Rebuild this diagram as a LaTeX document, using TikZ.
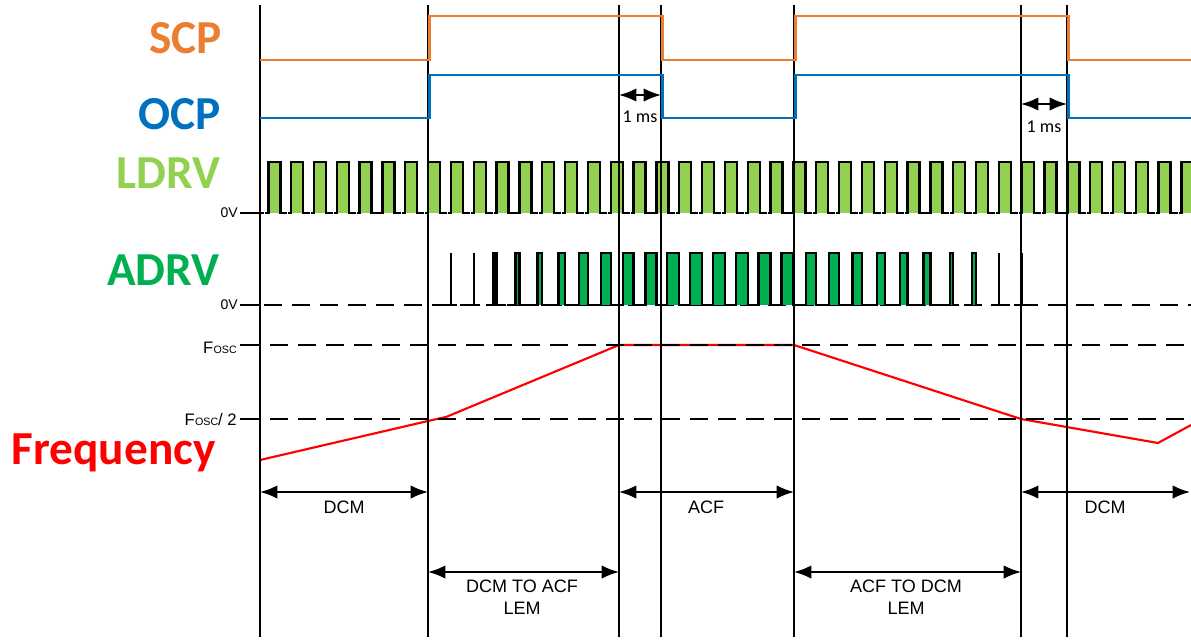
\documentclass[tikz,border=0pt]{standalone}
\usepackage{fontspec}
\setmainfont{Liberation Sans}
\newfontfamily\calibri{Carlito}
\usetikzlibrary{arrows.meta}
\definecolor{scpc}{RGB}{237,125,49}
\definecolor{ocpc}{RGB}{0,112,192}
\definecolor{ldrvc}{RGB}{146,208,80}
\definecolor{adrvc}{RGB}{0,176,80}
\definecolor{freqc}{RGB}{255,0,0}
\newcommand{\fosclabel}{F\kern0.3pt{\fontsize{8}{9}\selectfont OSC}}
\begin{document}
\begin{tikzpicture}[x=0.75pt,y=-0.75pt,
  vline/.style={black,line width=1.1pt},
  sig/.style={line width=2pt},
  pulse/.style={black,line width=1.8pt,line join=miter},
  dashln/.style={black,line width=2.2pt,dash pattern=on 13.5pt off 7.5pt},
  tickln/.style={black,line width=2.2pt},
  dim/.style={black,line width=1.3pt,{Latex[length=13pt,width=10pt]}-{Latex[length=13pt,width=10pt]}},
  msdim/.style={black,line width=1.3pt,{Latex[length=13pt,width=10pt]}-{Latex[length=13pt,width=10pt]}},
  lab/.style={font=\fontsize{13.5}{16.5}\selectfont, align=center, inner sep=0pt},
  mslab/.style={font=\calibri\fontsize{13.5}{15}\selectfont, inner sep=0pt},
  axlab/.style={anchor=base east, inner sep=0pt, text depth=0pt},
  big/.style={anchor=base east, inner sep=0pt, text height=23pt, font=\calibri\bfseries\fontsize{35.5}{40}\selectfont},
]
\useasboundingbox (0,0) rectangle (1191,639);

% vertical reference lines
\coordinate (a top) at (260,5);  \coordinate (a bot) at (260,637);
\coordinate (b top) at (428,5);  \coordinate (b bot) at (428,637);
\coordinate (c top) at (619,5);  \coordinate (c bot) at (619,637);
\coordinate (d top) at (661,5);  \coordinate (d bot) at (661,637);
\coordinate (e top) at (794,5);  \coordinate (e bot) at (794,637);
\coordinate (f top) at (1021,5); \coordinate (f bot) at (1021,637);
\coordinate (g top) at (1067,5); \coordinate (g bot) at (1067,637);
\coordinate (r1) at (0,492);
\coordinate (r2) at (0,572);
\coordinate (ms1) at (0,95);
\coordinate (ms2) at (0,104);
\coordinate (rend) at (1190,492);

% big labels
\node[big, text=scpc] (lscp) at (222,53) {SCP};
\node[big, text=ocpc] (locp) at (221,129) {OCP};
\node[big, text=ldrvc] (lldrv) at (221,188) {LDRV};
\node[big, text=adrvc] (ladrv) at (220,285) {ADRV};
\node[big, text=freqc] (lfreq) at (216,464) {Frequency};

% axis labels and ticks
\node[axlab, font=\fontsize{10.5}{12}\selectfont] (z1) at (238,217.5) {0V};
\node[axlab, font=\fontsize{10.5}{12}\selectfont] (z2) at (238,309.5) {0V};
\node[axlab, font=\fontsize{12.5}{14}\selectfont] (fo) at (237,353) {\fosclabel};
\node[axlab, font=\fontsize{12.5}{14}\selectfont] (fo2) at (237,425) {\fosclabel/ 2};
\draw[tickln] (240,213) -- (264,213);
\draw[tickln] (240,305) -- (260,305);
\draw[tickln] (240,345) -- (260,345);
\draw[tickln] (240,419) -- (260,419);

% frequency curve (under dashed levels)
\draw[freqc,line width=1.6pt,line join=round] (260,460) -- (428,421) -- (446,417) -- (619,345) -- (794,345) -- (1021,419) -- (1158,443) -- (1191,425);

% dashed levels
\draw[dashln] (264,305) -- (1191,305);
\draw[dashln] (270,345) -- (1191,345);
\draw[dashln] (270,419) -- (1191,419);

% LDRV pulses
\foreach \k in {0,...,40}{
  \pgfmathsetmacro\X{268.3+22.83*\k}
  \pgfmathsetmacro\Y{\X+12}
  \fill[ldrvc] (\X,162) rectangle (\Y,213);
  \draw[pulse] (\X-3,213) -- (\X,213) -- (\X,162) -- (\Y,162) -- (\Y,213) -- (\Y+7,213);
}

% ADRV pulses
\foreach \k/\w in {8/0,9/0,10/3,11/4,12/4.7,13/6.7,14/8.7,15/9.7,16/10.3,17/11,18/12,19/12,20/12,21/12,22/12,23/12,24/10.5,25/10,26/9.4,27/7.5,28/7.3,29/6.7,30/3,31/4,32/0,33/0}{
  \pgfmathsetmacro\R{268.3+22.83*\k}
  \pgfmathsetmacro\L{\R-\w}
  \ifdim\w pt>0pt
    \fill[adrvc] (\L,253) rectangle (\R,305);
  \fi
  \draw[pulse] (\L-8,305) -- (\L,305) -- (\L,253) -- (\R,253) -- (\R,305) -- (\R+6,305);
}

% vertical lines
\draw[vline] (a top) -- (a bot);
\draw[vline] (b top) -- (b bot);
\draw[vline] (c top) -- (c bot);
\draw[vline] (d top) -- (d bot);
\draw[vline] (e top) -- (e bot);
\draw[vline] (f top) -- (f bot);
\draw[vline] (g top) -- (g bot);

% SCP and OCP (edges just right of the reference lines)
\draw[sig,scpc] (260,60) -- (429.5,60) -- (429.5,16) -- (662.5,16) -- (662.5,60) -- (795.5,60) -- (795.5,16) -- (1068.5,16) -- (1068.5,60) -- (1191,60);
\draw[sig,ocpc] (260,118) -- (429.5,118) -- (429.5,75) -- (662.5,75) -- (662.5,118) -- (795.5,118) -- (795.5,75) -- (1068.5,75) -- (1068.5,118) -- (1191,118);

% 1 ms markers
\draw[msdim] (c top |- ms1) -- (d top |- ms1);
\node[mslab] (ms1l) at (640,117) {1 ms};
\draw[msdim] (f top |- ms2) -- (g top |- ms2);
\node[mslab] (ms2l) at (1044,127) {1 ms};

% mode arrows
\draw[dim] (a top |- r1) -- (b top |- r1);
\node[lab] (dcm1) at (344,507) {DCM};
\draw[dim] (c top |- r1) -- (e top |- r1);
\node[lab] (acf) at (706,507) {ACF};
\draw[dim] (f top |- r1) -- (rend);
\node[lab] (dcm2) at (1105,507) {DCM};
\draw[dim] (b top |- r2) -- (c top |- r2);
\node[lab] (d2a) at (522,597) {DCM TO ACF\\LEM};
\draw[dim] (e top |- r2) -- (f top |- r2);
\node[lab] (a2d) at (906,597) {ACF TO DCM\\LEM};
\end{tikzpicture}
\end{document}
